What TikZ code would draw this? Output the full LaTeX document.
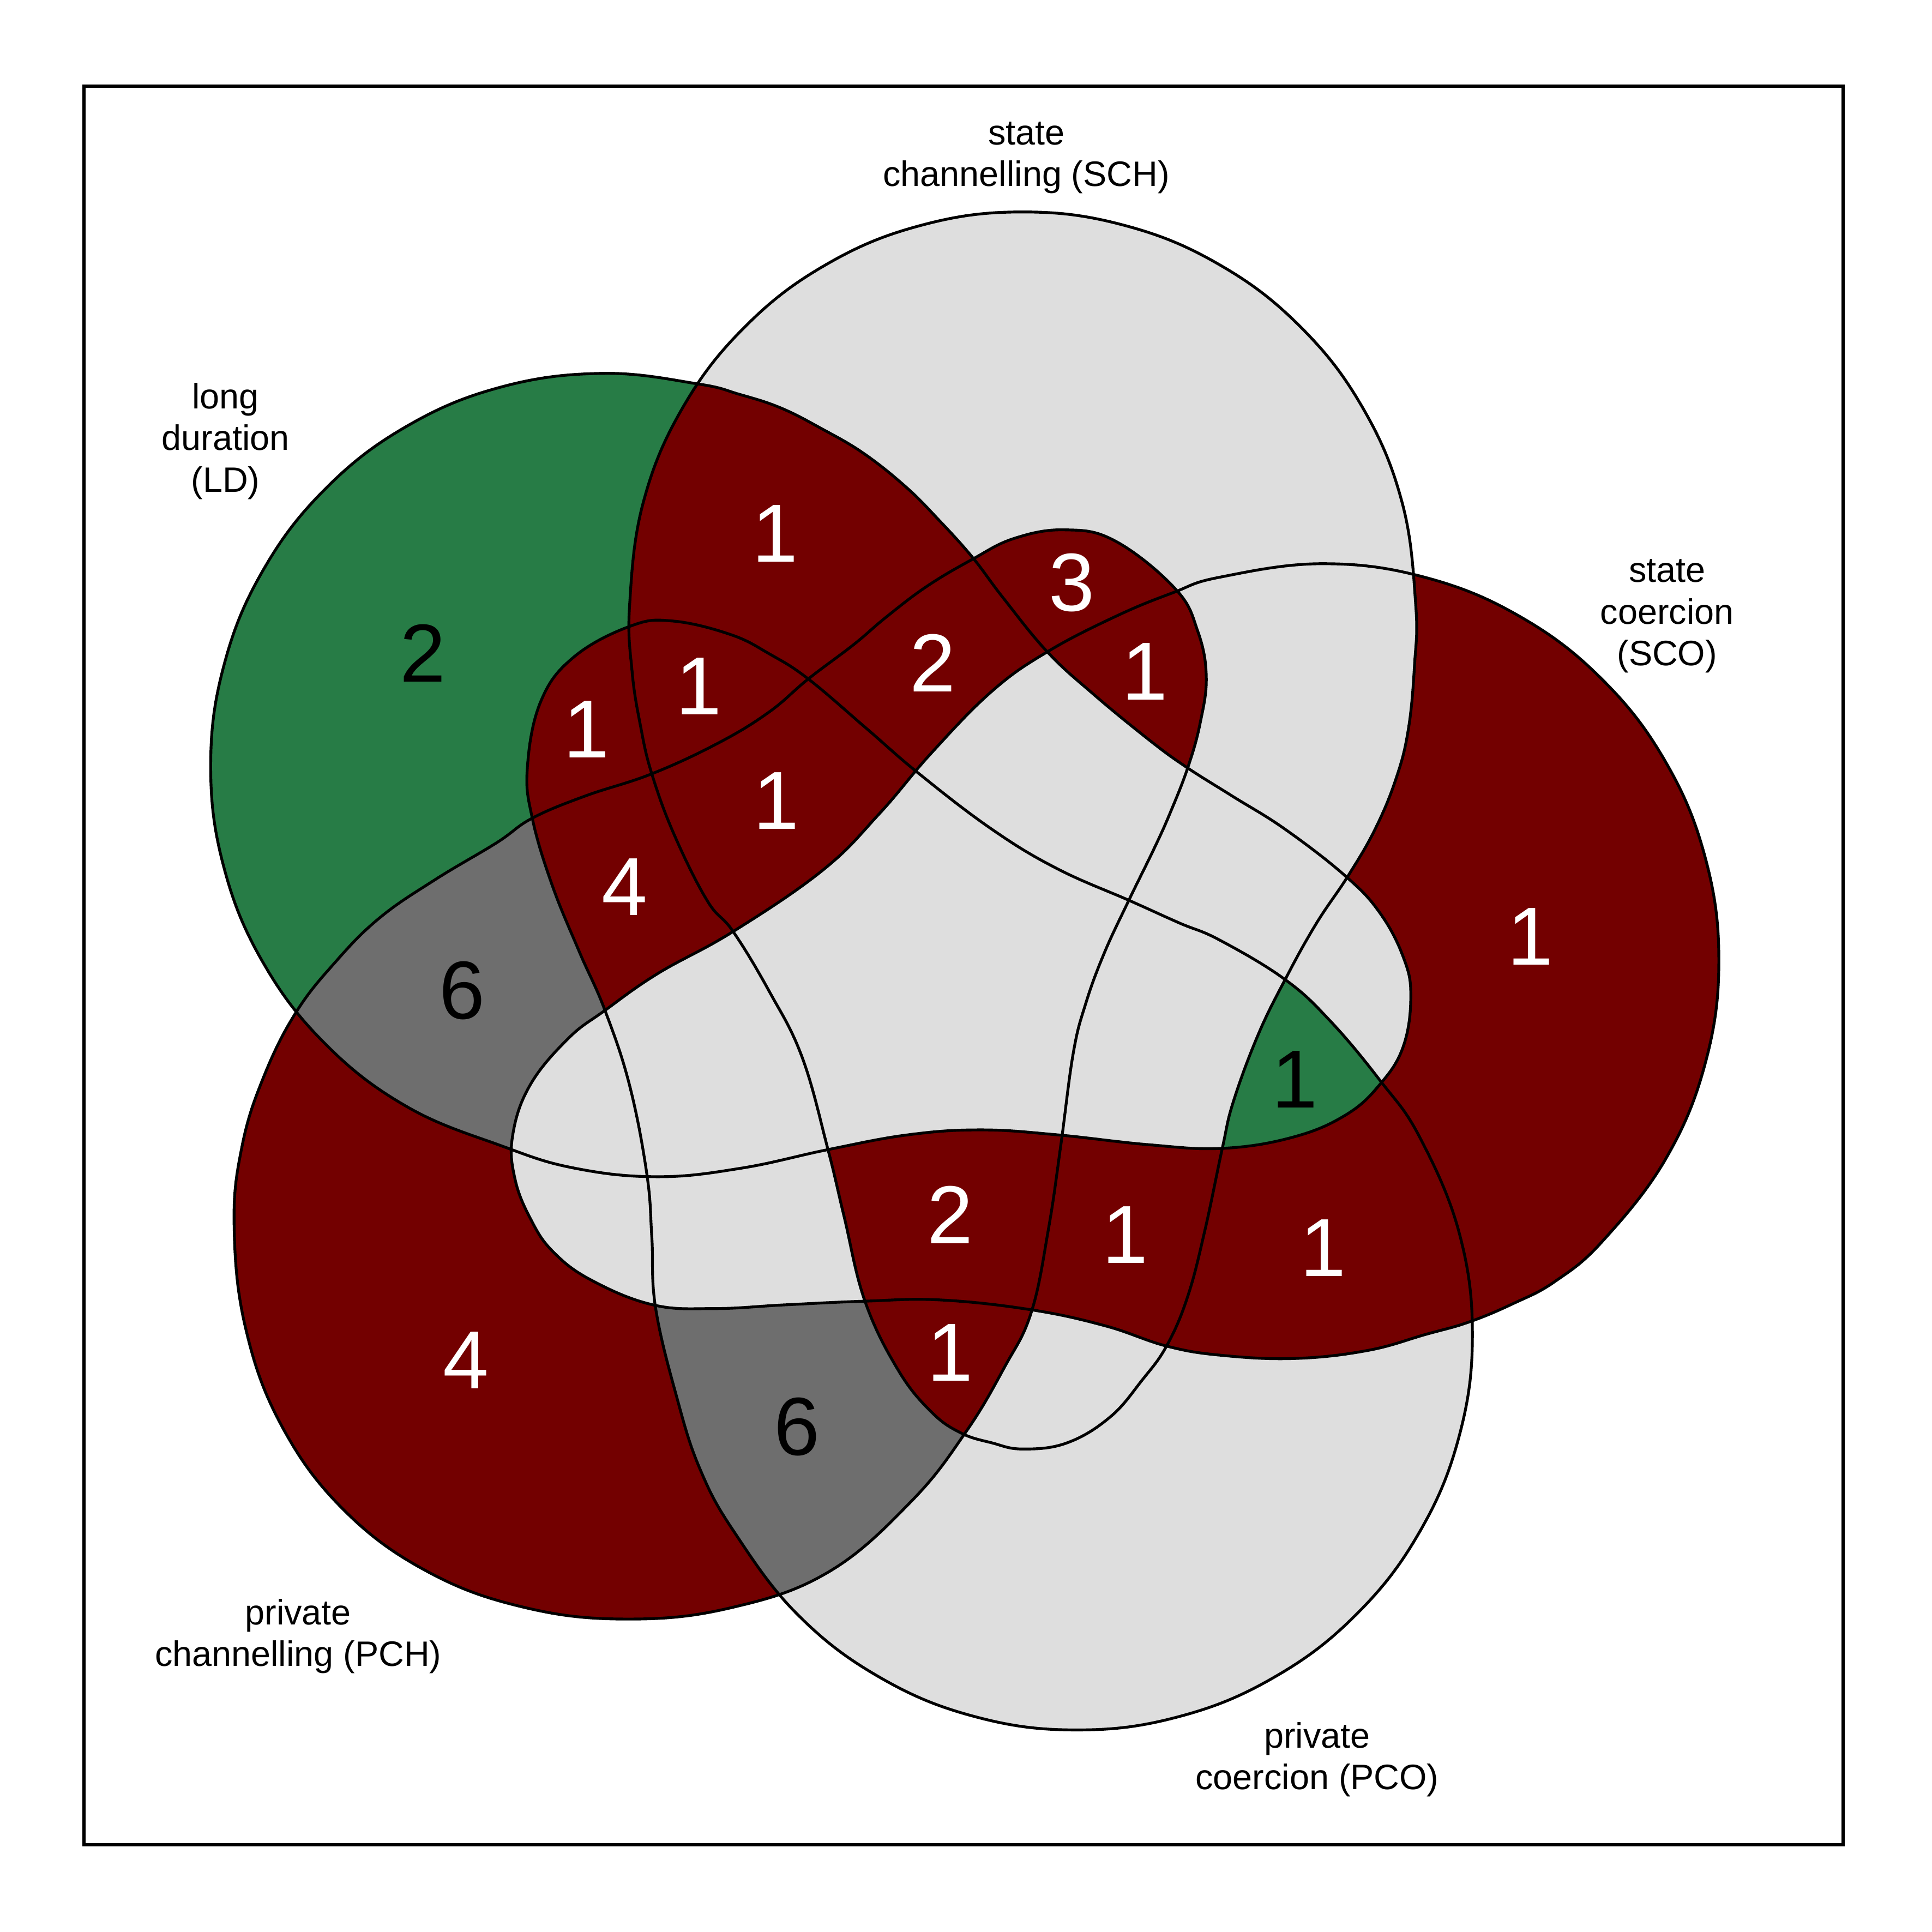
\documentclass[tikz,border=0pt]{standalone}
\usepackage{fontspec}
\setmainfont{Liberation Sans}
\definecolor{vred}{HTML}{730000}
\definecolor{vgreen}{HTML}{277C46}
\definecolor{vgray}{HTML}{6E6E6E}
\definecolor{vlight}{HTML}{DEDEDE}
\newcommand\pLD{plot[smooth cycle,tension=0.67] coordinates {(490,303) (566.6,311.6) (600,320) (633.5,331) (667,348) (701,368) (735,395) (761,421) (789,452) (814,485) (850,529) (887,563) (932,600) (962,622) (1000,646) (1043,673) (1092,711) (1120,741) (1139,777) (1145,808) (1139,849) (1120,880) (1092,905) (1049,923) (992,932) (932,929) (858,921) (796,917) (737,921) (672,933) (602,948) (534,955) (466,948) (407.4,930.1) (330.5,898.3) (264.4,847.6) (213.7,781.5) (181.9,704.6) (171,622) (181.9,539.4) (213.7,462.5) (264.4,396.4) (330.5,345.7) (407.4,313.9)}}
\newcommand\pSCH{plot[smooth cycle,tension=0.67] coordinates {(830,172) (912.6,182.9) (989.5,214.7) (1055.6,265.4) (1106.3,331.5) (1138.1,408.4) (1149,491) (1148,540) (1143,592) (1133,632) (1116,673) (1094,711) (1068,750) (1043,795) (1021,840) (1001,894) (992,932) (978,998) (964,1052) (947,1092) (927,1120) (901,1150) (866,1171) (830,1176) (805,1171) (780,1163) (756,1146) (729,1112) (702,1056) (685,987) (672,933) (651,858) (624,804) (595,756) (574,731) (547,677) (529,628) (520,590) (513,545) (511,491) (521.9,408.4) (553.7,331.5) (604.4,265.4) (670.5,214.7) (747.4,182.9)}}
\newcommand\pSCO{plot[smooth cycle,tension=0.67] coordinates {(1073,457.5) (1156.3,468.5) (1234,500.6) (1300.7,551.8) (1351.9,618.5) (1384,696.2) (1395,779.5) (1384,862.8) (1351.9,940.5) (1300.7,1007.2) (1262,1040) (1228,1058) (1192,1073) (1157,1083) (1110,1096) (1051,1102.5) (992,1100) (947,1092.5) (897,1076) (837,1063) (763,1055) (702,1056) (637,1059) (580,1062) (530,1059) (480,1039) (449,1016) (431,990) (418,957) (416,922) (430,881) (461,843) (491,820) (534,790) (595,756) (668,706) (714,660) (756,611) (805,561) (850,529) (906,500) (952,481) (989.7,468.5)}}
\newcommand\pPCO{plot[smooth cycle,tension=0.67] coordinates {(546,504) (593,515) (625,531) (656,551) (703,591) (746,628) (805,673) (858,705) (917,731) (957,749) (990,763) (1043,795) (1080,829) (1119.9,876.7) (1152,922.5) (1184.1,999.9) (1195,1083) (1184.1,1166.1) (1152,1243.5) (1101,1310) (1034.5,1361) (957.1,1393.1) (874,1404) (790.9,1393.1) (713.5,1361) (647,1310) (596,1243.5) (568,1192) (549,1133) (532,1061) (529,1004) (525,953) (511,881) (491,820) (470,772) (448,718) (432,664) (428,623) (439,569) (466,533) (512,508)}}
\newcommand\pPCH{plot[smooth cycle,tension=0.67] coordinates {(864,430) (905,439) (954,478) (972,512) (979,549) (974,587) (964,623) (950,659) (937,688) (916,731) (896,774) (881,815) (871,855) (861,929) (851,997) (837,1065) (815,1110) (784,1162) (740,1218) (672.6,1275.7) (593.3,1304.8) (510,1314) (426.7,1304.8) (347.4,1275.7) (278.8,1225.2) (228.3,1156.6) (199.2,1077.3) (190,994) (196.5,930) (214,874) (240,822) (272,781) (308,745) (353,714) (403,684) (432,664) (475,646) (529,628) (583,603) (624,578) (656,551) (693,523) (719,501) (752,476) (789,454) (823,437)}}
\newcommand\bigR{(-100,-100) rectangle (1700,1700)}
\newcommand\inS[1]{\clip #1;}
\newcommand\exS[1]{\clip \bigR #1;}
\newcommand\paint[1]{\fill[#1] \bigR;}
\begin{document}
\begin{tikzpicture}[x=0.01cm,y=-0.01cm,
  outl/.style={draw=black,line width=0.65pt},
  region/.style={even odd rule},
  numw/.style={text=white,font=\fontsize{19}{22}\selectfont,inner sep=0pt},
  numb/.style={text=black,font=\fontsize{19}{22}\selectfont,inner sep=0pt},
  setlab/.style={font=\fontsize{8.15}{9.64}\selectfont,align=center,inner sep=0pt}]
\useasboundingbox[fill=white] (0,0) rectangle (1568,1568);
% base fill
\fill[vlight] \pLD; \fill[vlight] \pSCH; \fill[vlight] \pSCO; \fill[vlight] \pPCO; \fill[vlight] \pPCH;
% green regions
\begin{scope}[region]\inS{\pLD}\exS{\pSCH}\exS{\pSCO}\exS{\pPCO}\exS{\pPCH}\paint{vgreen}\end{scope}
\begin{scope}[region]\inS{\pLD}\inS{\pSCO}\inS{\pPCO}\exS{\pSCH}\exS{\pPCH}\paint{vgreen}\end{scope}
% gray regions
\begin{scope}[region]\inS{\pLD}\inS{\pPCH}\exS{\pSCH}\exS{\pSCO}\exS{\pPCO}\paint{vgray}\end{scope}
\begin{scope}[region]\inS{\pPCH}\inS{\pPCO}\exS{\pLD}\exS{\pSCH}\exS{\pSCO}\paint{vgray}\end{scope}
% red regions
\begin{scope}[region]\inS{\pLD}\inS{\pSCH}\exS{\pSCO}\exS{\pPCO}\exS{\pPCH}\paint{vred}\end{scope}
\begin{scope}[region]\inS{\pSCH}\inS{\pPCH}\exS{\pLD}\exS{\pSCO}\exS{\pPCO}\paint{vred}\end{scope}
\begin{scope}[region]\inS{\pSCH}\inS{\pPCH}\inS{\pSCO}\exS{\pLD}\exS{\pPCO}\paint{vred}\end{scope}
\begin{scope}[region]\inS{\pLD}\inS{\pSCH}\inS{\pPCH}\exS{\pSCO}\exS{\pPCO}\paint{vred}\end{scope}
\begin{scope}[region]\inS{\pLD}\inS{\pSCH}\inS{\pPCO}\exS{\pSCO}\exS{\pPCH}\paint{vred}\end{scope}
\begin{scope}[region]\inS{\pLD}\inS{\pPCO}\exS{\pSCH}\exS{\pSCO}\exS{\pPCH}\paint{vred}\end{scope}
\begin{scope}[region]\inS{\pLD}\inS{\pSCH}\inS{\pPCH}\inS{\pPCO}\exS{\pSCO}\paint{vred}\end{scope}
\begin{scope}[region]\inS{\pLD}\inS{\pPCH}\inS{\pPCO}\exS{\pSCH}\exS{\pSCO}\paint{vred}\end{scope}
\begin{scope}[region]\inS{\pSCO}\exS{\pLD}\exS{\pSCH}\exS{\pPCO}\exS{\pPCH}\paint{vred}\end{scope}
\begin{scope}[region]\inS{\pSCH}\inS{\pSCO}\inS{\pPCO}\exS{\pLD}\exS{\pPCH}\paint{vred}\end{scope}
\begin{scope}[region]\inS{\pSCO}\inS{\pPCO}\exS{\pLD}\exS{\pSCH}\exS{\pPCH}\paint{vred}\end{scope}
\begin{scope}[region]\inS{\pSCH}\inS{\pPCH}\inS{\pPCO}\exS{\pLD}\exS{\pSCO}\paint{vred}\end{scope}
\begin{scope}[region]\inS{\pSCH}\inS{\pSCO}\inS{\pPCH}\inS{\pPCO}\exS{\pLD}\paint{vred}\end{scope}
\begin{scope}[region]\inS{\pPCH}\exS{\pLD}\exS{\pSCH}\exS{\pSCO}\exS{\pPCO}\paint{vred}\end{scope}
% outlines
\draw[outl] \pLD; \draw[outl] \pSCH; \draw[outl] \pSCO; \draw[outl] \pPCO; \draw[outl] \pPCH;
% counts
\node[numb] (c1) at (343,530) {2};
\node[numw] (c2) at (629,433) {1};
\node[numw] (c3) at (870,473) {3};
\node[numw] (c4) at (929,545) {1};
\node[numw] (c5) at (757,538) {2};
\node[numw] (c6) at (567,557) {1};
\node[numw] (c7) at (476,592) {1};
\node[numw] (c8) at (630,650) {1};
\node[numw] (c9) at (507,720) {4};
\node[numb] (c10) at (375,804) {6};
\node[numw] (c11) at (1242,760) {1};
\node[numb] (c12) at (1051,876) {1};
\node[numw] (c13) at (1074,1013) {1};
\node[numw] (c14) at (771,986) {2};
\node[numw] (c15) at (913,1002) {1};
\node[numw] (c16) at (771,1098) {1};
\node[numb] (c17) at (647,1158) {6};
\node[numw] (c18) at (378,1104) {4};
% set labels
\node[setlab] (lSCH) at (833,128) {state\\channelling (SCH)};
\node[setlab] (lLD) at (183,358) {long\\duration\\(LD)};
\node[setlab] (lSCO) at (1353,500) {state\\coercion\\(SCO)};
\node[setlab] (lPCH) at (242,1328) {private\\channelling (PCH)};
\node[setlab] (lPCO) at (1069,1428) {private\\coercion (PCO)};
% frame
\draw[line width=0.75pt] (68,70) rectangle (1496,1497);
\end{tikzpicture}
\end{document}
